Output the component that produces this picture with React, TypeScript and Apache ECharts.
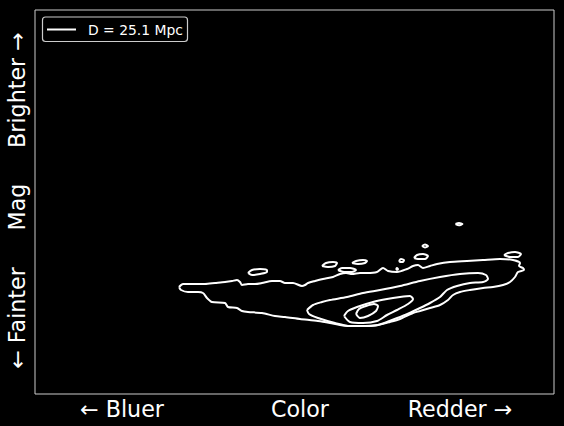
import React, { useEffect, useRef } from "react";
import * as echarts from "echarts";

// Axis ranges (color on x, magnitude on y, brighter upward)
const xRange = [35, 554];
const yRange = [10, 394];

const xTickLabels = ["← Bluer", "Color", "Redder →"];
const yTickLabels = ["← Fainter", "Mag", "Brighter →"];
const legendLabel = "D = 25.1 Mpc";

// Contour level 1 (outermost)
const level1Main: number[][] = [
  [179, 287], [183, 284], [190, 284], [198, 284], [205, 284], [215, 283], [225, 282], [232, 281],
  [237, 280], [240, 282], [242, 285], [248, 284], [255, 284], [262, 283], [272, 281], [280, 281],
  [285, 283], [293, 283], [302, 286], [305, 285], [308, 283], [315, 281], [323, 279], [333, 277],
  [340, 274], [346, 273], [352, 274], [360, 273], [367, 273], [377, 272], [383, 268], [388, 271],
  [397, 272], [407, 269], [413, 266], [418, 265], [423, 268], [430, 266], [437, 264], [450, 262],
  [467, 261], [483, 260], [500, 259], [513, 260], [520, 263], [519, 266], [523, 268], [524, 270],
  [518, 272], [515, 277], [510, 282], [503, 285], [493, 287], [483, 288], [470, 290], [460, 292],
  [453, 295], [448, 300], [440, 305], [430, 308], [420, 311], [413, 313], [400, 319], [390, 322],
  [378, 325], [365, 326], [350, 326], [340, 325], [330, 323], [318, 321], [300, 319], [285, 317],
  [275, 316], [262, 313], [248, 312], [242, 311], [237, 308], [228, 307], [225, 303], [212, 302],
  [207, 298], [203, 293], [198, 292], [188, 292], [181, 290], [179, 287],
];
const level1IslandA: number[][] = [[248, 273], [252, 270], [260, 269], [267, 270], [267, 272], [260, 274], [252, 275], [248, 273]];
const level1IslandB: number[][] = [[322, 266], [326, 263], [333, 262], [337, 263], [335, 266], [328, 267], [322, 266]];
const level1IslandC: number[][] = [[352, 263], [356, 261], [363, 260], [367, 261], [365, 263], [358, 264], [352, 263]];
const level1IslandD: number[][] = [[338, 270], [342, 268], [350, 268], [356, 270], [352, 272], [344, 272], [338, 270]];
const level1IslandE: number[][] = [[399, 261], [401, 259], [404, 260], [403, 262], [400, 262], [399, 261]];
const level1IslandF: number[][] = [[414, 258], [417, 255], [423, 254], [428, 256], [425, 259], [418, 259], [414, 258]];
const level1IslandG: number[][] = [[504, 255], [508, 253], [515, 252], [521, 254], [518, 257], [510, 257], [504, 255]];
const level1DotH: number[][] = [[422, 246], [425, 244.5], [428, 246], [425, 247.5], [422, 246]];
const level1DotI: number[][] = [[455.5, 224], [459, 223], [462.5, 224], [459, 225.2], [455.5, 224]];
const level1DotJ: number[][] = [[396, 269], [397, 268], [398, 269], [397, 270], [396, 269]];

// Contour level 2
const level2: number[][] = [
  [307, 310], [313, 305], [322, 302], [330, 300], [347, 297], [363, 293], [380, 290], [400, 286],
  [420, 281], [440, 277], [460, 274], [478, 273], [486, 275], [488, 279], [483, 282], [470, 283],
  [457, 286], [447, 290], [440, 297], [430, 303], [420, 308], [405, 315], [392, 320], [378, 325],
  [365, 326], [350, 326], [335, 323], [318, 318], [309, 314], [307, 310],
];

// Contour level 3
const level3: number[][] = [
  [344, 316], [348, 311], [357, 307], [373, 302], [387, 299], [400, 297], [410, 296], [413, 299],
  [408, 304], [397, 310], [387, 315], [377, 321], [363, 323], [350, 322], [344, 316],
];

// Contour level 4 (innermost)
const level4: number[][] = [
  [356, 314], [359, 309], [366, 306], [374, 304], [378, 306], [376, 311], [368, 316], [360, 318], [356, 314],
];

const contours = [
  level1Main, level1IslandA, level1IslandB, level1IslandC, level1IslandD, level1IslandE,
  level1IslandF, level1IslandG, level1DotH, level1DotI, level1DotJ, level2, level3, level4,
];

const W = 564;
const H = 426;
const FONT = "DejaVu Sans";

export default function App() {
  const ref = useRef<HTMLDivElement>(null);
  useEffect(() => {
    if (!ref.current) return;
    const chart = echarts.init(ref.current, null, { renderer: "svg" });
    const gl = 35, gt = 10, gw = 519, gh = 384;
    const xLabelPos = [122, 300, 460];
    const yLabelPos = [318, 207, 90];
    const graphics: any[] = [];
    xTickLabels.forEach((t, i) => {
      graphics.push({
        type: "text",
        x: xLabelPos[i],
        y: 409,
        style: { text: t, fill: "#fff", font: `22.2px "${FONT}"`, align: "center", verticalAlign: "middle" },
      });
    });
    yTickLabels.forEach((t, i) => {
      graphics.push({
        type: "text",
        x: 17,
        y: yLabelPos[i],
        rotation: Math.PI / 2,
        style: { text: t, fill: "#fff", font: `22.2px "${FONT}"`, align: "center", verticalAlign: "middle" },
      });
    });
    // legend
    graphics.push({
      type: "rect",
      shape: { x: 42.5, y: 17, width: 145, height: 24.5, r: 3 },
      style: { fill: "#000", stroke: "#cccccc", lineWidth: 1.2 },
      z: 10,
    });
    graphics.push({
      type: "line",
      shape: { x1: 47, y1: 29.5, x2: 76, y2: 29.5 },
      style: { stroke: "#fff", lineWidth: 2 },
      z: 11,
    });
    graphics.push({
      type: "text",
      x: 88,
      y: 29.5,
      style: { text: legendLabel, fill: "#fff", font: `13.9px "${FONT}"`, align: "left", verticalAlign: "middle" },
      z: 11,
    });

    chart.setOption({
      animation: false,
      backgroundColor: "#000",
      grid: { left: gl, top: gt, width: gw, height: gh, show: true, borderColor: "#cccccc", borderWidth: 1, backgroundColor: "transparent" },
      xAxis: { type: "value", min: xRange[0], max: xRange[1], show: false },
      yAxis: { type: "value", min: yRange[0], max: yRange[1], inverse: true, show: false },
      series: contours.map((c) => ({
        type: "line",
        data: c,
        showSymbol: false,
        symbol: "none",
        smooth: 0.25,
        lineStyle: { color: "#fff", width: 2 },
        silent: true,
      })),
      graphic: graphics,
    });
    return () => chart.dispose();
  }, []);
  return (
    <div style={{ position: "fixed", left: 0, top: 0, width: W, height: H, background: "#000" }}>
      <div ref={ref} style={{ width: W, height: H }} />
    </div>
  );
}
